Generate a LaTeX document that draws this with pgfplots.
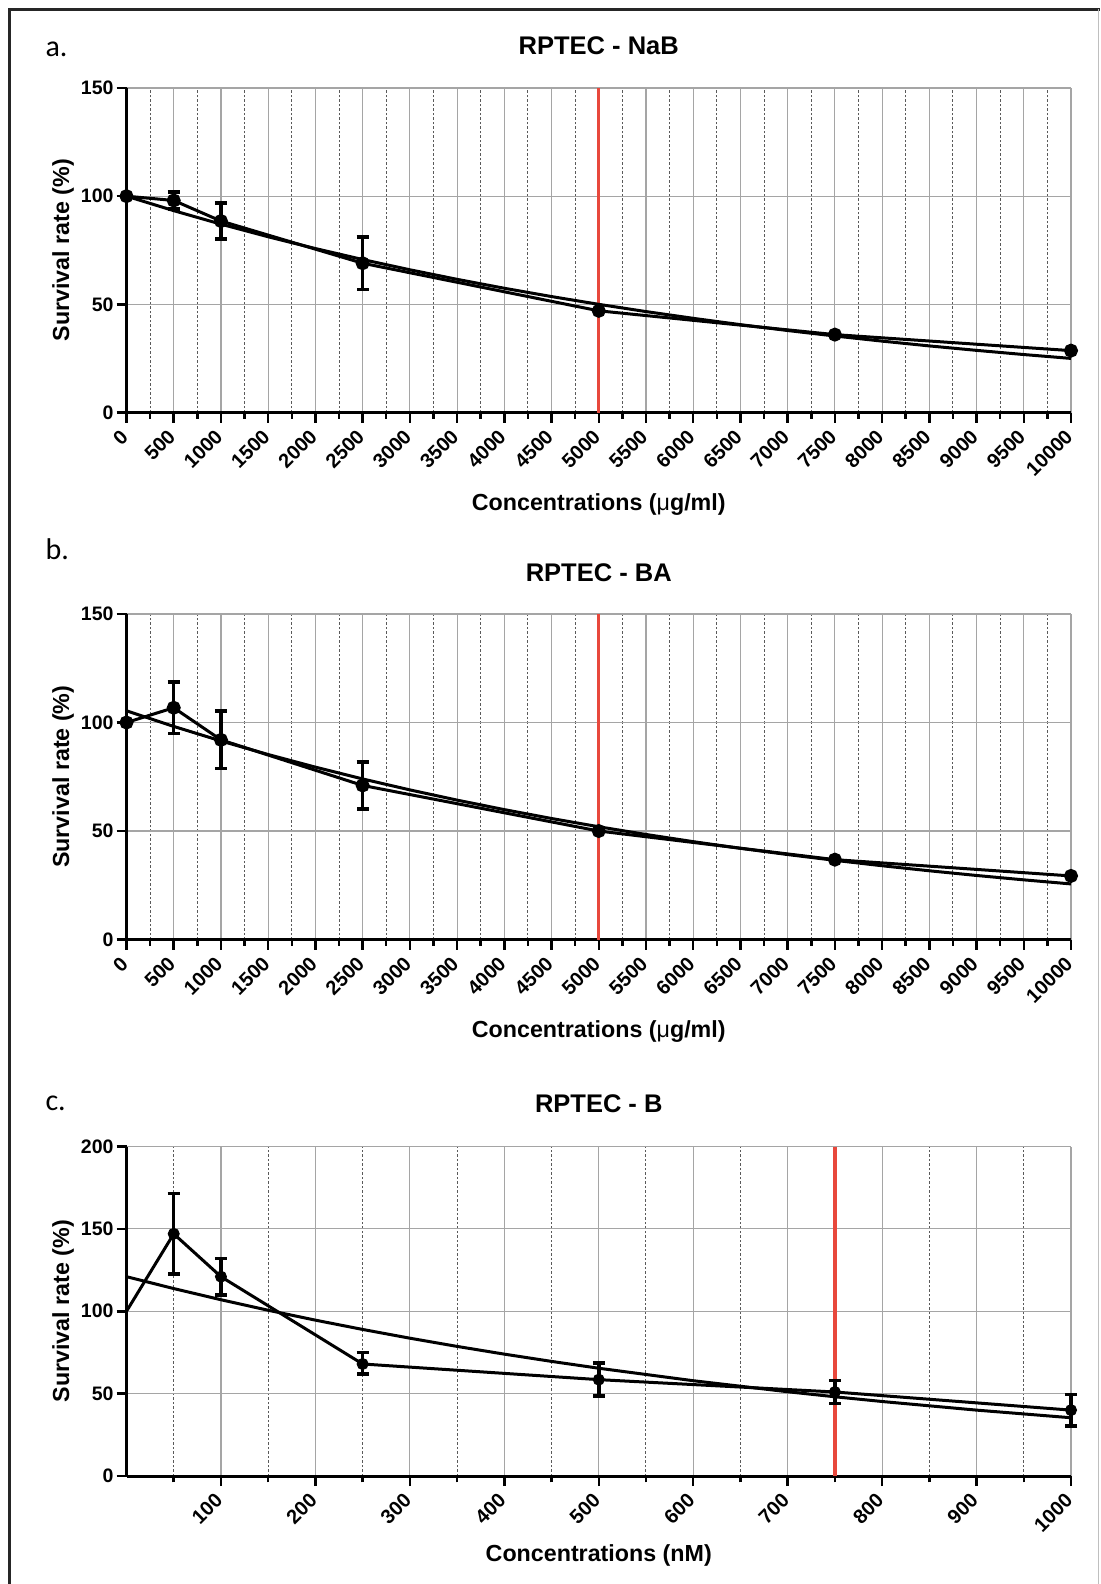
\documentclass[border=0pt]{standalone}
\usepackage{pgfplots}
\pgfplotsset{compat=1.18}
\usepackage{pgfplotstable}
\usepackage{fontspec}
\setmainfont{Liberation Sans}
\newfontfamily\panelfont{Carlito}
\definecolor{redline}{RGB}{232,72,60}
\definecolor{gridgray}{RGB}{165,165,165}
\definecolor{minorgray}{RGB}{90,90,90}

% ---------- data ----------
\pgfplotstableread{
x y
0 100
500 98
1000 88.5
2500 69
5000 47
7500 36
10000 28.6
}\dataA
\pgfplotstableread{
x y e
500 98 4
1000 88.5 8.4
2500 69 12.1
}\errA
\pgfplotstableread{
x y
0 100
500 93.30
1000 87.06
1500 81.23
2000 75.79
2500 70.71
3000 65.98
3500 61.56
4000 57.43
4500 53.59
5000 50.00
5500 46.65
6000 43.53
6500 40.61
7000 37.89
7500 35.36
8000 32.99
8500 30.78
9000 28.72
9500 26.79
10000 25.00
}\fitA

\pgfplotstableread{
x y
0 100
500 106.8
1000 92
2500 71
5000 50
7500 36.8
10000 29.3
}\dataB
\pgfplotstableread{
x y e
500 106.8 11.8
1000 92 13.3
2500 71 10.8
}\errB
\pgfplotstableread{
x y
0 105.40
500 98.20
1000 91.50
1500 85.25
2000 79.43
2500 74.00
3000 68.95
3500 64.24
4000 59.86
4500 55.77
5000 51.96
5500 48.41
6000 45.10
6500 42.02
7000 39.15
7500 36.48
8000 33.99
8500 31.67
9000 29.51
9500 27.49
10000 25.61
}\fitB

\pgfplotstableread{
x y
0 100
50 147
100 121
250 68
500 58.5
750 51
1000 40
}\dataC
\pgfplotstableread{
x y ep em
50 147 24.5 24.5
100 121 11 11
250 68 7 6
500 58.5 10 10
750 51 7 7
1000 40 9.5 9.5
}\errC
\pgfplotstableread{
x y
0 121.00
50 113.78
100 107.00
150 100.61
200 94.61
250 88.97
300 83.66
350 78.67
400 73.98
450 69.57
500 65.42
600 57.85
700 51.15
750 48.10
800 45.23
900 40.00
1000 35.37
}\fitC

\pgfplotsset{
  panel/.style={
    scale only axis,
    width=377.8pt,
    axis x line*=bottom, axis y line*=left,
    axis line style={line width=1.2pt, black},
    tick align=outside,
    major tick length=4pt, minor tick length=2.5pt,
    tick style={black, line width=1pt},
    xmajorgrids, ymajorgrids, xminorgrids,
    major grid style={gridgray, line width=0.45pt, solid},
    minor grid style={minorgray, line width=0.4pt, dash pattern=on 1pt off 0.8pt},
    /pgf/number format/assume math mode=true,
    /pgf/number format/1000 sep={},
    scaled x ticks=false, scaled y ticks=false,
    xticklabel style={font=\bfseries\fontsize{8}{9}\selectfont, rotate=45, anchor=east, inner sep=1pt},
    yticklabel style={font=\bfseries\fontsize{7.8}{9}\selectfont, inner sep=1pt},
    xticklabel shift=3.5pt,
    label style={font=\bfseries\fontsize{9.3}{11}\selectfont},
    ylabel style={at={(axis description cs:-0.0672,0.5)}, anchor=center},
    clip=false,
  },
  dataline/.style={black, line width=1.2pt, mark=*, mark size=2.2pt, mark options={solid}},
  fitline/.style={black, line width=1.2pt, no marks},
  errs/.style={only marks, mark=*, mark size=2.2pt, black,
    error bars/.cd, y dir=both, y explicit,
    error bar style={line width=1.4pt, black},
    error mark=-,
    error mark options={rotate=90, line width=1.4pt, mark size=2.4pt, black}},
}

\begin{document}
\begin{tikzpicture}[x=1pt,y=1pt]
\path (0,0) rectangle (440,-633.6);

% ---------------- panel a ----------------
\begin{axis}[panel, at={(50.6pt,-165pt)}, anchor=south west, height=129.8pt,
  xmin=0, xmax=10000, ymin=0, ymax=150,
  xtick={0,500,...,10000}, minor xtick={250,750,...,9750},
  ytick={0,50,100,150},
  xlabel={Concentrations ({\mdseries μ}g/ml)}, ylabel={Survival rate (\%)},
  xlabel style={at={(axis description cs:0.5,-0.285)}, anchor=center}]
\addplot[redline, line width=1.3pt] coordinates {(5000,0) (5000,150)};
\addplot[fitline] table[x=x,y=y] {\fitA};
\addplot[dataline] table[x=x,y=y] {\dataA};
\addplot[errs] table[x=x,y=y,y error=e] {\errA};
\end{axis}

% ---------------- panel b ----------------
\begin{axis}[panel, at={(50.6pt,-375.8pt)}, anchor=south west, height=130.2pt,
  xmin=0, xmax=10000, ymin=0, ymax=150,
  xtick={0,500,...,10000}, minor xtick={250,750,...,9750},
  ytick={0,50,100,150},
  xlabel={Concentrations ({\mdseries μ}g/ml)}, ylabel={Survival rate (\%)},
  xlabel style={at={(axis description cs:0.5,-0.284)}, anchor=center}]
\addplot[redline, line width=1.3pt] coordinates {(5000,0) (5000,150)};
\addplot[fitline] table[x=x,y=y] {\fitB};
\addplot[dataline] table[x=x,y=y] {\dataB};
\addplot[errs] table[x=x,y=y,y error=e] {\errB};
\end{axis}

% ---------------- panel c ----------------
\begin{axis}[panel, at={(50.6pt,-590.4pt)}, anchor=south west, height=131.8pt,
  xmin=0, xmax=1000, ymin=0, ymax=200,
  xtick={100,200,...,1000}, minor xtick={50,150,...,950},
  ytick={0,50,100,150,200},
  xlabel={Concentrations (nM)}, ylabel={Survival rate (\%)},
  xlabel style={at={(axis description cs:0.5,-0.2416)}, anchor=center}]
\addplot[redline, line width=1.3pt] coordinates {(750,0) (750,200)};
\addplot[fitline] table[x=x,y=y] {\fitC};
\addplot[black, line width=1.2pt, no marks] table[x=x,y=y] {\dataC};
\addplot[errs] table[x=x,y=y,y error plus=ep,y error minus=em] {\errC};
\end{axis}

% titles and panel letters
\node[font=\bfseries\fontsize{10.2}{12}\selectfont] at (239.5,-18.2) {RPTEC - NaB};
\node[font=\bfseries\fontsize{10.2}{12}\selectfont] at (239.5,-229.2) {RPTEC - BA};
\node[font=\bfseries\fontsize{10.2}{12}\selectfont] at (239.5,-441.6) {RPTEC - B};
\node[font=\panelfont\fontsize{12}{14}\selectfont, anchor=base west, inner sep=0pt] at (18,-22.8) {a.};
\node[font=\panelfont\fontsize{12}{14}\selectfont, anchor=base west, inner sep=0pt] at (18,-223.8) {b.};
\node[font=\panelfont\fontsize{12}{14}\selectfont, anchor=base west, inner sep=0pt] at (18,-444.2) {c.};

% frame
\draw[line width=1.1pt, black!85] (3.7,-633.6) -- (3.7,-3.7) -- (440,-3.7);
\draw[black!25, line width=0.3pt] (439.2,-3.7) -- (439.2,-633.6);

\pgfresetboundingbox
\path (0,0) rectangle (440,-633.6);
\end{tikzpicture}
\end{document}
